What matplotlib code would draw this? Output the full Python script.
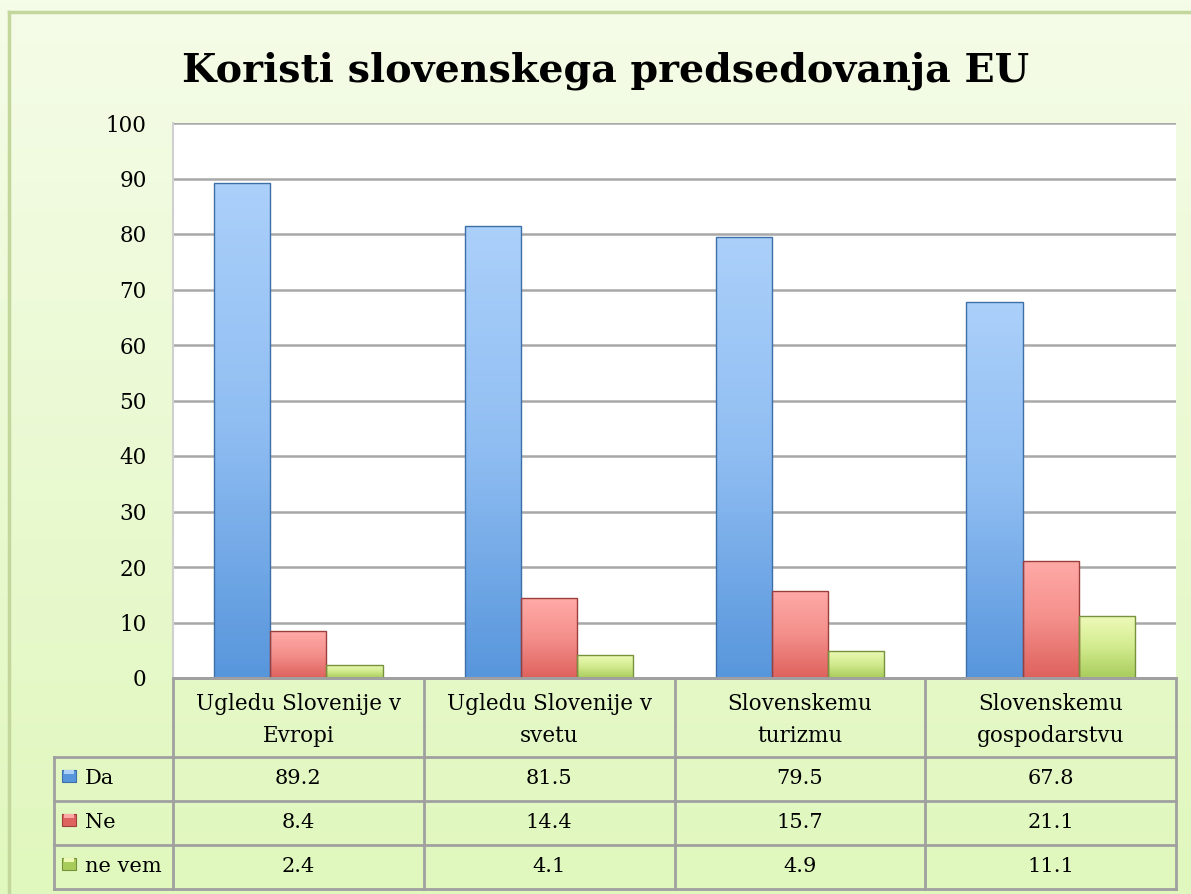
import matplotlib.pyplot as plt
import numpy as np
from matplotlib.colors import LinearSegmentedColormap
from matplotlib.patches import Rectangle

categories = ['Ugledu Slovenije v\nEvropi', 'Ugledu Slovenije v\nsvetu',
              'Slovenskemu\nturizmu', 'Slovenskemu\ngospodarstvu']
series = ['Da', 'Ne', 'ne vem']
da = [89.2, 81.5, 79.5, 67.8]
ne = [8.4, 14.4, 15.7, 21.1]
ne_vem = [2.4, 4.1, 4.9, 11.1]
yticks = list(range(0, 101, 10))

# light top -> middle -> dark bottom, plus edge colour
styles = [('#abd0fa', '#8fbdf2', '#5896dc', '#3d6fa8'),
          ('#ffaaa7', '#f48f8b', '#de625d', '#9c3f3c'),
          ('#eefab8', '#d2eb8e', '#a8cc5c', '#76923c')]

W, H = 1191, 894
plt.rcParams['font.family'] = ['DejaVu Serif']


def px(x0, y0, x1, y1):
    return [x0 / W, 1 - y1 / H, (x1 - x0) / W, (y1 - y0) / H]


fig = plt.figure(figsize=(W / 100, H / 100), dpi=100)

# background gradient
bg = fig.add_axes([0, 0, 1, 1])
bgcm = LinearSegmentedColormap.from_list('bg', ['#f5fce8', '#e0f7bd'])
bg.imshow(np.linspace(0, 1, 256).reshape(-1, 1), cmap=bgcm, aspect='auto',
          extent=[0, W, H, 0])
bg.set_xlim(0, W)
bg.set_ylim(H, 0)
bg.plot([9, W], [12, 12], color='#c3d69b', lw=2.5)
bg.plot([9, 9], [12, H], color='#c3d69b', lw=2.5)
bg.axis('off')

fig.text(606 / W, 1 - 81 / H, 'Koristi slovenskega predsedovanja EU',
         ha='center', va='baseline', fontsize=28.5, fontweight='bold')

# main plot
ax = fig.add_axes(px(173, 123, 1176, 678))
ax.set_facecolor('white')
ax.set_xlim(0, 4)
ax.set_ylim(0, 100)
ax.set_yticks(yticks)
ax.set_xticks([])
ax.grid(axis='y', color='#a8a8a8', lw=1.8)
ax.set_axisbelow(True)
for s in ['top', 'right']:
    ax.spines[s].set_visible(False)
ax.spines['left'].set_color('#d0d0d0')
ax.spines['left'].set_linewidth(1.5)
ax.spines['bottom'].set_color('#a0a0a0')
ax.spines['bottom'].set_linewidth(2)
ax.tick_params(axis='y', length=0, pad=19, labelsize=15.5)

x = np.arange(4) + 0.5
bw = 0.224
for k, vals in enumerate([da, ne, ne_vem]):
    top, mid, bot, edge = styles[k]
    cm = LinearSegmentedColormap.from_list('c%d' % k, [top, mid, bot])
    bars = ax.bar(x + (k - 1) * bw, vals, bw, color='none', edgecolor=edge, lw=1, zorder=3)
    for b in bars:
        x0, y0 = b.get_x(), b.get_y()
        im = ax.imshow(np.linspace(0, 1, 128).reshape(-1, 1), cmap=cm, aspect='auto',
                       extent=[x0, x0 + b.get_width(), y0, y0 + b.get_height()],
                       origin='upper', zorder=2)
        im.set_clip_path(b)
ax.set_xlim(0, 4)
ax.set_ylim(0, 100)

# data table
tax = fig.add_axes(px(54, 678, 1176, 889))
lw0 = 119 / 250.75
tax.set_xlim(-lw0, 4)
tax.set_ylim(211, 0)
tax.axis('off')
gc = '#a0a0a0'
rows_y = [0, 79, 123, 167, 211]
tax.plot([0, 4], [0, 0], color=gc, lw=2, clip_on=False)
for yy in rows_y[1:]:
    tax.plot([-lw0, 4], [yy, yy], color=gc, lw=2, clip_on=False)
for xx in range(5):
    tax.plot([xx, xx], [0, 211], color=gc, lw=2, clip_on=False)
tax.plot([-lw0, -lw0], [79, 211], color=gc, lw=2, clip_on=False)

for i, c in enumerate(categories):
    tax.text(i + 0.5, 42, c, ha='center', va='center', fontsize=15.5, linespacing=1.55)


def xd(p):
    return -lw0 + (p - 54) / 250.75


for r, (name, vals) in enumerate(zip(series, [da, ne, ne_vem])):
    cy = (rows_y[r + 1] + rows_y[r + 2]) / 2
    top, mid, bot, edge = styles[r]
    tax.add_patch(Rectangle((xd(62), cy - 9), xd(76) - xd(62), 12,
                            facecolor=bot, edgecolor=edge, lw=0.8, clip_on=False))
    tax.add_patch(Rectangle((xd(64), cy - 9), xd(74) - xd(64), 4,
                            facecolor=top, edgecolor='none', clip_on=False))
    tax.text(xd(85), cy, name, ha='left', va='center', fontsize=15)
    for i, v in enumerate(vals):
        tax.text(i + 0.5, cy, '%.1f' % v, ha='center', va='center', fontsize=15)

fig.savefig('out.png', dpi=100)
